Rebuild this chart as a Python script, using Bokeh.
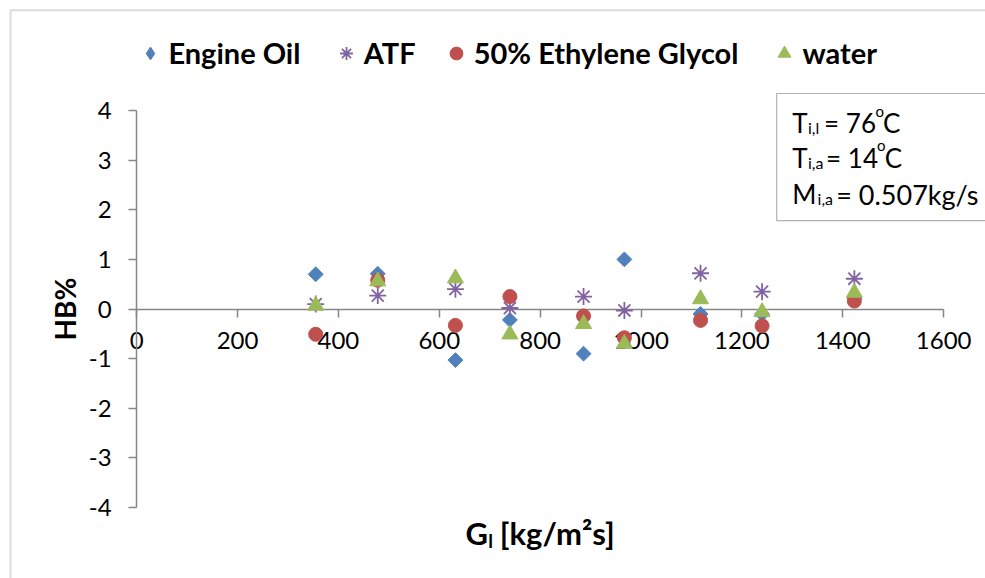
import numpy as np
from bokeh.plotting import figure
from bokeh.models import FixedTicker, Label, Legend, LegendItem, BoxAnnotation
from bokeh.embed import file_html
from bokeh.resources import INLINE

# ---- data ----
G_l = [355, 478, 632, 740, 886, 967, 1118, 1240, 1423]
engine_oil = [0.70, 0.71, -1.03, -0.22, -0.90, 1.00, -0.10, -0.10, 0.22]
atf = [0.10, 0.27, 0.40, 0.02, 0.25, -0.03, 0.72, 0.35, 0.61]
ethylene_glycol_50 = [-0.51, 0.58, -0.33, 0.25, -0.14, -0.58, -0.23, -0.34, 0.16]
water = [0.07, 0.56, 0.62, -0.51, -0.30, -0.70, 0.20, -0.06, 0.33]

series_names = ["Engine Oil", "ATF", "50% Ethylene Glycol", "water"]

x_ticks = [0, 200, 400, 600, 800, 1000, 1200, 1400, 1600]
x_tick_labels = ["0", "200", "400", "600", "800", "1000", "1200", "1400", "1600"]
y_ticks = [-4, -3, -2, -1, 0, 1, 2, 3, 4]
y_tick_labels = ["-4", "-3", "-2", "-1", "0", "1", "2", "3", "4"]

BLUE = "#4F81BD"
RED = "#C0504D"
GREEN = "#9BBB59"
PURPLE = "#8064A2"
AXIS = "#868686"
FONT = "Lato"

# the frame covers the whole canvas; axes sit at fixed locations inside it
p = figure(width=985, height=578, x_range=(-270, 1683), y_range=(-5.431, 6.217),
           output_backend="svg", toolbar_location=None,
           min_border_left=0, min_border_right=0, min_border_top=0, min_border_bottom=0)
p.grid.visible = False
p.outline_line_color = None
p.background_fill_color = "white"
p.border_fill_color = "white"

xa = p.xaxis[0]
xa.ticker = FixedTicker(ticks=x_ticks)
xa.major_label_overrides = {t: s for t, s in zip(x_ticks, x_tick_labels)}
xa.fixed_location = 0
xa.bounds = (x_ticks[0], x_ticks[-1])
xa.axis_line_color = AXIS
xa.axis_line_width = 1.5
xa.major_tick_line_color = AXIS
xa.major_tick_line_width = 1.5
xa.major_tick_in = 0
xa.major_tick_out = 8
xa.minor_tick_line_color = None
xa.minor_tick_in = 0
xa.minor_tick_out = 0
xa.major_label_standoff = 15
xa.major_label_text_font = FONT
xa.major_label_text_font_size = "24px"
xa.major_label_text_color = "black"
xa.level = "underlay"

ya = p.yaxis[0]
ya.ticker = FixedTicker(ticks=y_ticks)
ya.major_label_overrides = {t: s for t, s in zip(y_ticks, y_tick_labels)}
ya.fixed_location = 0
ya.bounds = (y_ticks[0], y_ticks[-1])
ya.axis_line_color = AXIS
ya.axis_line_width = 1.5
ya.major_tick_line_color = AXIS
ya.major_tick_line_width = 1.5
ya.major_tick_in = 0
ya.major_tick_out = 8
ya.minor_tick_line_color = None
ya.minor_tick_in = 0
ya.minor_tick_out = 0
ya.major_label_standoff = 17
ya.major_label_text_font = FONT
ya.major_label_text_font_size = "24px"
ya.major_label_text_color = "black"
ya.level = "underlay"

r_eo = p.scatter(G_l, engine_oil, marker="square", angle=np.pi / 4, size=10.5,
                 fill_color=BLUE, line_color=BLUE)
r_atf = p.scatter(G_l, atf, marker="asterisk", size=17, line_color=PURPLE, line_width=1.8)
r_eg = p.scatter(G_l, ethylene_glycol_50, marker="circle", size=14,
                 fill_color=RED, line_color=RED)
r_w = p.scatter(G_l, water, marker="triangle", size=16, fill_color=GREEN, line_color=GREEN)

# legend swatch for the diamond series (legend swatches are drawn unrotated),
# hidden in the plot itself
r_eo_key = p.scatter(G_l, engine_oil, marker="diamond", fill_color=BLUE, line_color=BLUE,
                     visible=False)

legend_pos = [134.4, 329.7, 439.7, 768.4]
for r, name, lx in zip([r_eo_key, r_atf, r_eg, r_w], series_names, legend_pos):
    lg = Legend(items=[LegendItem(label=name, renderers=[r])], location=(lx, 505.5),
                orientation="horizontal", glyph_width=32, glyph_height=40,
                label_height=40, label_standoff=2, padding=0, margin=0, spacing=0,
                border_line_color=None, background_fill_alpha=0,
                label_text_font=FONT, label_text_font_style="bold",
                label_text_font_size="29px", label_text_color="black")
    p.add_layout(lg)


def add_text(text, x, y, size, bold=False, angle=0.0, align="left", baseline="alphabetic"):
    p.add_layout(Label(x=x, y=y, text=text, text_font=FONT, text_font_size=size,
                       text_font_style="bold" if bold else "normal", text_color="black",
                       angle=angle, text_align=align, text_baseline=baseline))


# chart area border (left and top edges visible)
p.add_layout(BoxAnnotation(left=-250, right=5000, top=6.02, bottom=-100,
                           fill_alpha=0, line_color="#8c8c8c", line_width=2))

# text box
p.add_layout(BoxAnnotation(left=1269, right=5000, top=4.343, bottom=1.783,
                           fill_alpha=0, line_color="black", line_width=1.2))
add_text("T", 1300, 3.758, "26px")
add_text("i,l", 1331, 3.657, "16px")
add_text("= 76", 1363, 3.758, "26px")
add_text("o", 1465, 4.0, "15px")
add_text("C", 1480, 3.758, "26px")

add_text("T", 1300, 3.053, "26px")
add_text("i,a", 1331, 2.952, "16px")
add_text("= 14", 1367, 3.053, "26px")
add_text("o", 1468, 3.295, "15px")
add_text("C", 1483, 3.053, "26px")

add_text("M", 1300, 2.317, "26px")
add_text("i,a", 1350, 2.217, "16px")
add_text("= 0.507kg/s", 1387, 2.317, "27px")

# axis titles
add_text("HB%", -143, 0, "28px", bold=True, angle=np.pi / 2, align="center", baseline="middle")
add_text("G", 652, -4.524, "31px", bold=True)
add_text("l", 697, -4.665, "19px", bold=True)
add_text("[kg/m\u00b2s]", 720, -4.524, "31px", bold=True)

open("out.html", "w").write(file_html(p, INLINE))
